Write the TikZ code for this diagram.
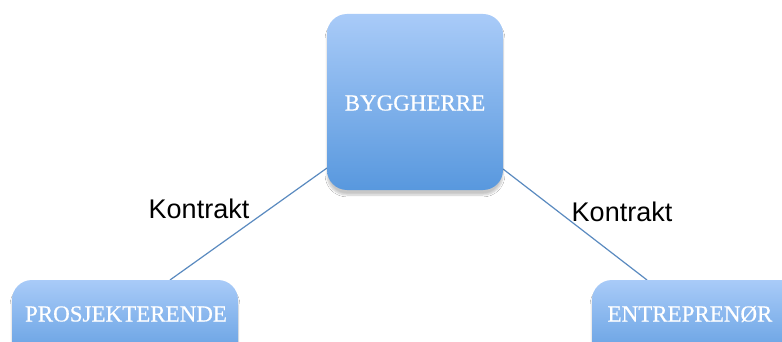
\documentclass[tikz,border=0pt]{standalone}
\usepackage{fontspec}
\setmainfont{Liberation Serif}
\newfontfamily\boxfont[FakeBold=0.6]{Liberation Serif}
\newfontfamily\labelfont{Liberation Sans}
\usetikzlibrary{shadows,shadows.blur}
\definecolor{boxtop}{HTML}{A9CBF8}
\definecolor{boxbot}{HTML}{5898DE}
\definecolor{linec}{HTML}{5A8AC0}
\begin{document}
\begin{tikzpicture}[x=1pt,y=-1pt,
  rolebox/.style={rounded corners=20pt, top color=boxtop, bottom color=boxbot, draw=none,
    blur shadow={shadow xshift=0pt, shadow yshift=-5pt, shadow blur steps=8, shadow opacity=22}},
  roletext/.style={text=white, font=\boxfont\fontsize{23}{26}\selectfont},
  conn/.style={draw=linec, line width=1.2pt},
  klabel/.style={font=\labelfont\fontsize{27}{30}\selectfont, text=black}]
\useasboundingbox (0,0) rectangle (782,342);
\clip (0,0) rectangle (782,342);
\fill[white] (0,0) rectangle (782,342);
% connectors first
\coordinate (bl) at (327,168);
\coordinate (br) at (503,169);
\coordinate (pt) at (170,280);
\coordinate (et) at (647,280);
\draw[conn] (bl) -- (pt);
\draw[conn] (br) -- (et);
% boxes
\path[rolebox] (327,14) rectangle (503,190);
\node[roletext] (byg) at (415,103) {BYGGHERRE};
\path[rolebox] (12,280) rectangle (238,370);
\node[roletext] (pro) at (126,314) {PROSJEKTERENDE};
\path[rolebox] (592,280) rectangle (820,370);
\node[roletext] (ent) at (690,314) {ENTREPRENØR};
% labels
\node[klabel] (k1) at (199,209) {Kontrakt};
\node[klabel] (k2) at (622,212) {Kontrakt};
\end{tikzpicture}
\end{document}
